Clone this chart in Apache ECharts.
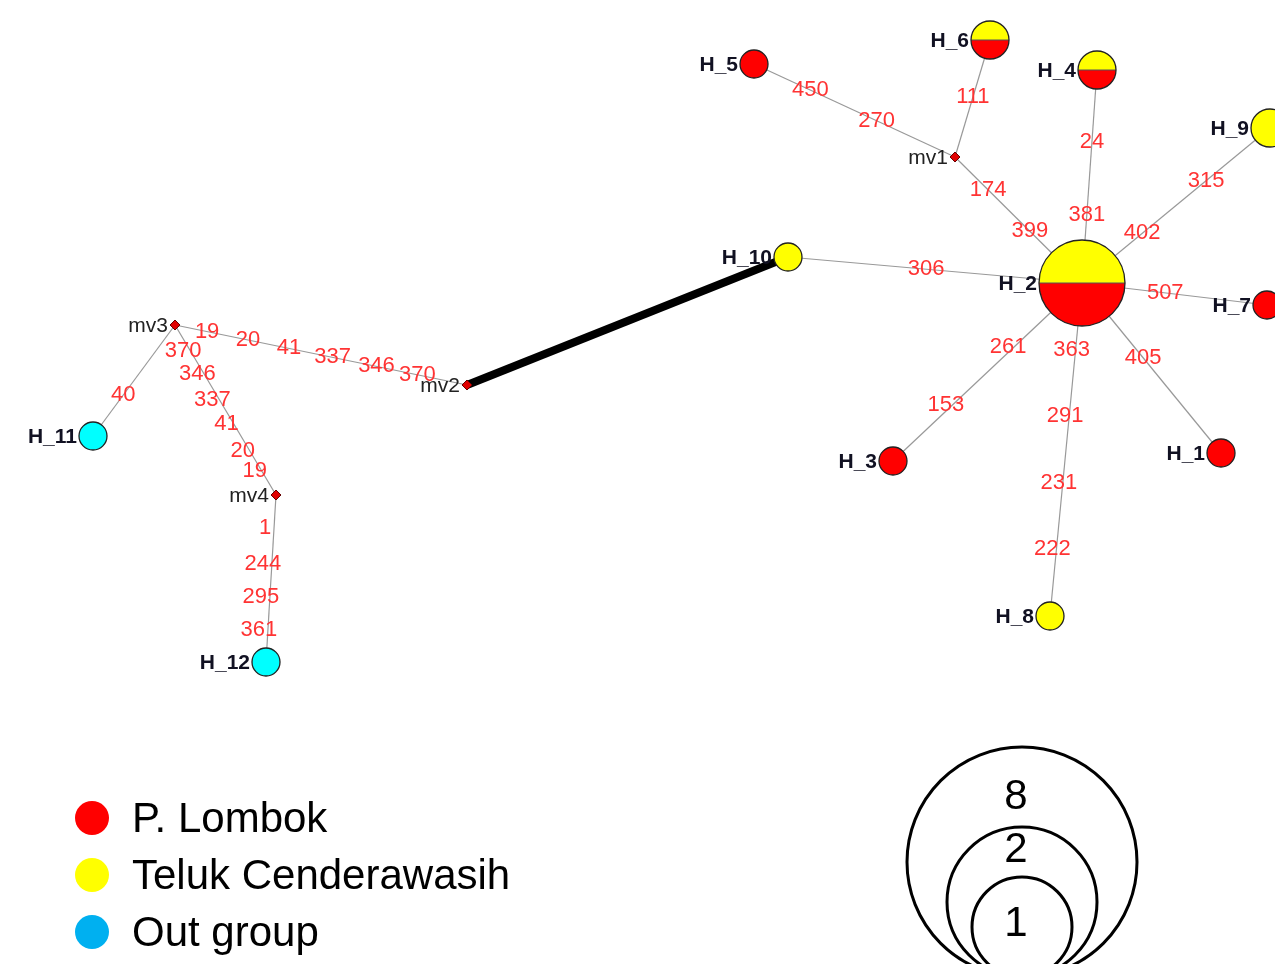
<!DOCTYPE html>
<html>
<head>
<meta charset="UTF-8">
<title>Haplotype network</title>
<style>
  html, body { margin: 0; padding: 0; background: #fff; }
  #main { width: 1275px; height: 964px; }
</style>
</head>
<body>
<div id="main"></div>
<script src="https://cdn.jsdelivr.net/npm/echarts@6/dist/echarts.min.js"></script>
<script type="text/javascript">
  // haplotypes and median vectors (pixel layout of the network)
  var nodeNames = ['H_1', 'H_2', 'H_3', 'H_4', 'H_5', 'H_6', 'H_7', 'H_8', 'H_9', 'H_10', 'H_11', 'H_12', 'mv1', 'mv2', 'mv3', 'mv4'];
  var nodeX = [1221, 1082, 893, 1097, 754, 990, 1267, 1050, 1270, 788, 93, 266, 955, 467, 175, 276];
  var nodeY = [453, 283, 461, 70, 64, 40, 305, 616, 128, 257, 436, 662, 157, 385, 325, 495];
  // sample counts per population
  var lombokCount   = [1, 4, 1, 1, 1, 1, 1, 0, 0, 0, 0, 0, 0, 0, 0, 0];
  var telukCount    = [0, 4, 0, 1, 0, 1, 0, 1, 2, 1, 0, 0, 0, 0, 0, 0];
  var outgroupCount = [0, 0, 0, 0, 0, 0, 0, 0, 0, 0, 1, 1, 0, 0, 0, 0];

  // links and the mutated positions written on them
  var edgeList = [
    ['H_5', 'mv1'], ['H_6', 'mv1'], ['mv1', 'H_2'], ['H_4', 'H_2'], ['H_9', 'H_2'],
    ['H_10', 'H_2'], ['H_2', 'H_7'], ['H_2', 'H_3'], ['H_2', 'H_8'], ['H_2', 'H_1'],
    ['mv2', 'H_10'], ['mv3', 'mv2'], ['mv3', 'H_11'], ['mv3', 'mv4'], ['mv4', 'H_12']
  ];
  var edgeMutations = [
    ['450', '270'], ['111'], ['174', '399'], ['24', '381'], ['315', '402'],
    ['306'], ['507'], ['261', '153'], ['363', '291', '231', '222'], ['405'],
    [], ['19', '20', '41', '337', '346', '370'], ['40'], ['370', '346', '337', '41', '20', '19'], ['1', '244', '295', '361']
  ];
  var edgeLabelT = [
    [0.28, 0.61], [0.49], [0.26, 0.59], [0.34, 0.68], [0.34, 0.68],
    [0.47], [0.45], [0.38, 0.71], [0.2, 0.4, 0.6, 0.8], [0.44],
    [], [0.11, 0.25, 0.39, 0.54, 0.69, 0.83], [0.63], [0.15, 0.29, 0.44, 0.58, 0.74, 0.86], [0.2, 0.41, 0.61, 0.81]
  ];

  var legendNames = ['P. Lombok', 'Teluk Cenderawasih', 'Out group'];
  var sizeLegend = ['8', '2', '1'];

  var popColors = ['#ff0000', '#ffff00', '#00ffff'];
  var legendColors = ['#ff0000', '#ffff00', '#00b0f0'];
  var radiusByCount = { 1: 14, 2: 19, 8: 43 };
  var thickEdge = 10;
  // small sideways nudge of the mutation labels on some links
  var labelShift = { 13: [-7, 0], 14: [-9, 0], 8: [-4, 0], 7: [-2, -4] };

  function idx(name) { return nodeNames.indexOf(name); }

  var nodeData = nodeNames.map(function(n, i) {
    return [nodeX[i], nodeY[i], i];
  });

  var lineData = edgeList.map(function(e, k) {
    var a = idx(e[0]), b = idx(e[1]);
    return {
      coords: [[nodeX[a], nodeY[a]], [nodeX[b], nodeY[b]]],
      lineStyle: k === thickEdge ? { color: '#000', width: 8, opacity: 1 } : { color: '#999', width: 1.2, opacity: 1 }
    };
  });

  var mutData = [];
  edgeList.forEach(function(e, k) {
    var a = idx(e[0]), b = idx(e[1]);
    var sh = labelShift[k] || [0, 0];
    edgeMutations[k].forEach(function(txt, j) {
      var t = edgeLabelT[k][j];
      mutData.push([nodeX[a] + (nodeX[b] - nodeX[a]) * t + sh[0], nodeY[a] + (nodeY[b] - nodeY[a]) * t + sh[1], txt]);
    });
  });

  function renderNode(params, api) {
    var i = api.value(2);
    var p = api.coord([api.value(0), api.value(1)]);
    var name = nodeNames[i];
    var children = [];
    var r;
    if (name.indexOf('mv') === 0) {
      r = 5;
      children.push({
        type: 'polygon',
        shape: { points: [[p[0], p[1] - r], [p[0] + r, p[1]], [p[0], p[1] + r], [p[0] - r, p[1]]] },
        style: { fill: '#e00000', stroke: '#600', lineWidth: 1 }
      });
      children.push({
        type: 'text',
        style: {
          text: name, x: p[0] - r - 2, y: p[1] + 1, align: 'right', verticalAlign: 'middle',
          font: '21px "Liberation Sans", Arial, sans-serif', fill: '#222'
        }
      });
    } else {
      var counts = [lombokCount[i], telukCount[i], outgroupCount[i]];
      var total = counts[0] + counts[1] + counts[2];
      r = radiusByCount[total] || 14;
      // yellow drawn first from the left edge over the top, then red
      var order = [1, 0, 2];
      var a0 = Math.PI;
      order.forEach(function(pi) {
        if (!counts[pi]) return;
        var sweep = counts[pi] / total * Math.PI * 2;
        if (counts[pi] === total) {
          children.push({ type: 'circle', shape: { cx: p[0], cy: p[1], r: r }, style: { fill: popColors[pi] } });
        } else {
          children.push({
            type: 'sector',
            shape: { cx: p[0], cy: p[1], r0: 0, r: r, startAngle: a0, endAngle: a0 + sweep, clockwise: true },
            style: { fill: popColors[pi] }
          });
        }
        a0 += sweep;
      });
      if (counts[0] && counts[1]) {
        children.push({
          type: 'line',
          shape: { x1: p[0] - r, y1: p[1], x2: p[0] + r, y2: p[1] },
          style: { stroke: '#555', lineWidth: 1 }
        });
      }
      children.push({
        type: 'circle', shape: { cx: p[0], cy: p[1], r: r },
        style: { fill: null, stroke: '#222', lineWidth: 1.3 }
      });
      children.push({
        type: 'text',
        style: {
          text: name, x: p[0] - r - 2, y: p[1] + 1, align: 'right', verticalAlign: 'middle',
          font: 'bold 21px "Liberation Sans", Arial, sans-serif', fill: '#111122'
        }
      });
    }
    return { type: 'group', children: children };
  }

  function renderMutation(params, api) {
    var p = api.coord([api.value(0), api.value(1)]);
    return {
      type: 'text',
      style: {
        text: mutData[params.dataIndex][2], x: p[0], y: p[1], align: 'center', verticalAlign: 'middle',
        font: '22px "Liberation Sans", Arial, sans-serif', fill: '#ff3333'
      }
    };
  }

  var legendGraphics = [];
  legendNames.forEach(function(n, k) {
    legendGraphics.push({
      type: 'circle', left: 75, top: 801 + k * 57,
      shape: { r: 17 }, style: { fill: legendColors[k] }
    });
    legendGraphics.push({
      type: 'text', left: 132, top: 799 + k * 57,
      style: { text: n, font: '42px "Liberation Sans", Arial, sans-serif', fill: '#000' }
    });
  });
  var sizeR = [115, 75, 50];
  var sizeTextY = [797, 850, 924];
  sizeLegend.forEach(function(s, k) {
    legendGraphics.push({
      type: 'circle', shape: { cx: 1022, cy: 977 - sizeR[k], r: sizeR[k] },
      style: { fill: null, stroke: '#000', lineWidth: 3 }
    });
    legendGraphics.push({
      type: 'text',
      style: {
        text: s, x: 1016, y: sizeTextY[k], align: 'center', verticalAlign: 'middle',
        font: '42px "Liberation Sans", Arial, sans-serif', fill: '#000'
      }
    });
  });

  var myCharts = echarts.init(document.querySelector('#main'));
  var option = {
    backgroundColor: '#fff',
    animation: false,
    grid: { left: 0, right: 0, top: 0, bottom: 0 },
    xAxis: { type: 'value', min: 0, max: 1275, show: false },
    yAxis: { type: 'value', min: 0, max: 964, inverse: true, show: false },
    graphic: legendGraphics,
    series: [{
      type: 'lines',
      coordinateSystem: 'cartesian2d',
      z: 1,
      data: lineData
    }, {
      type: 'custom',
      z: 2,
      renderItem: renderMutation,
      data: mutData
    }, {
      type: 'custom',
      z: 3,
      clip: false,
      renderItem: renderNode,
      data: nodeData
    }]
  };
  myCharts.setOption(option);
</script>
</body>
</html>
